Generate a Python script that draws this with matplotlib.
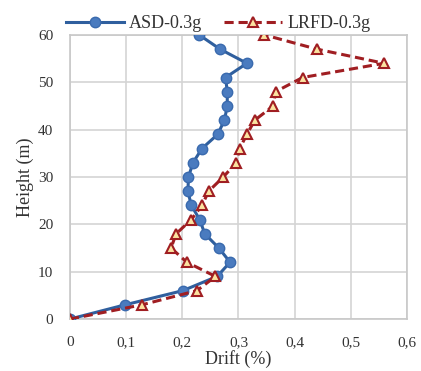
import matplotlib
matplotlib.use("Agg")
import matplotlib.pyplot as plt
from matplotlib.ticker import FuncFormatter

# storey heights (m)
heights = [0, 3, 6, 9, 12, 15, 18, 21, 24, 27, 30, 33, 36, 39, 42, 45, 48, 51, 54, 57, 60]

# drift (%)
asd_drift = [0, 0.098, 0.201, 0.262, 0.285, 0.265, 0.240, 0.231, 0.216, 0.210, 0.211,
             0.219, 0.235, 0.263, 0.275, 0.280, 0.280, 0.277, 0.315, 0.267, 0.230]
lrfd_drift = [0, 0.128, 0.226, 0.259, 0.208, 0.180, 0.189, 0.216, 0.235, 0.247, 0.273,
              0.296, 0.302, 0.315, 0.329, 0.362, 0.366, 0.414, 0.559, 0.439, 0.346]

x_ticks = [0, 0.1, 0.2, 0.3, 0.4, 0.5, 0.6]
y_ticks = [0, 10, 20, 30, 40, 50, 60]

plt.rcParams['font.family'] = ['Liberation Serif', 'DejaVu Serif']

fig = plt.figure(figsize=(4.21, 3.71), dpi=100)
ax = fig.add_axes([0.166, 0.140, 0.801, 0.766])

ax.plot(asd_drift, heights, '-o', color='#2F5F9E', lw=2.2, ms=7.5,
        markerfacecolor='#4A7BBF', markeredgecolor='#3A6AAE', label='ASD-0.3g', zorder=3)
ax.plot(lrfd_drift, heights, '--^', color='#A01E22', lw=2.2, ms=7.5,
        markerfacecolor='#FBE3A0', markeredgecolor='#A01E22', markeredgewidth=1.5,
        dashes=(3, 1.6), label='LRFD-0.3g', zorder=4)

ax.set_xlim(0, 0.6)
ax.set_ylim(0, 60)
ax.set_xticks(x_ticks)
ax.set_yticks(y_ticks)
ax.xaxis.set_major_formatter(FuncFormatter(lambda v, p: ('%g' % round(v, 1)).replace('.', ',')))
ax.tick_params(length=0, labelsize=11, colors='#333333')
ax.tick_params(axis='x', pad=12)
ax.tick_params(axis='y', pad=12)
ax.grid(True, color='#D4D4D4', lw=1.2)
ax.set_axisbelow(True)
for s in ax.spines.values():
    s.set_color('#C8C8C8')
    s.set_linewidth(1.2)

ax.set_xlabel('Drift (%)', fontsize=13, color='#333333', labelpad=1)
ax.set_ylabel('Height (m)', fontsize=13, color='#333333', labelpad=3)

leg = ax.legend(loc='lower center', bbox_to_anchor=(0.44, 0.985), ncol=2, frameon=False,
                fontsize=13, handlelength=3.2, columnspacing=1.2, borderaxespad=0,
                handletextpad=0.3)
for t in leg.get_texts():
    t.set_color('#333333')

fig.savefig('out.png', dpi=100)
